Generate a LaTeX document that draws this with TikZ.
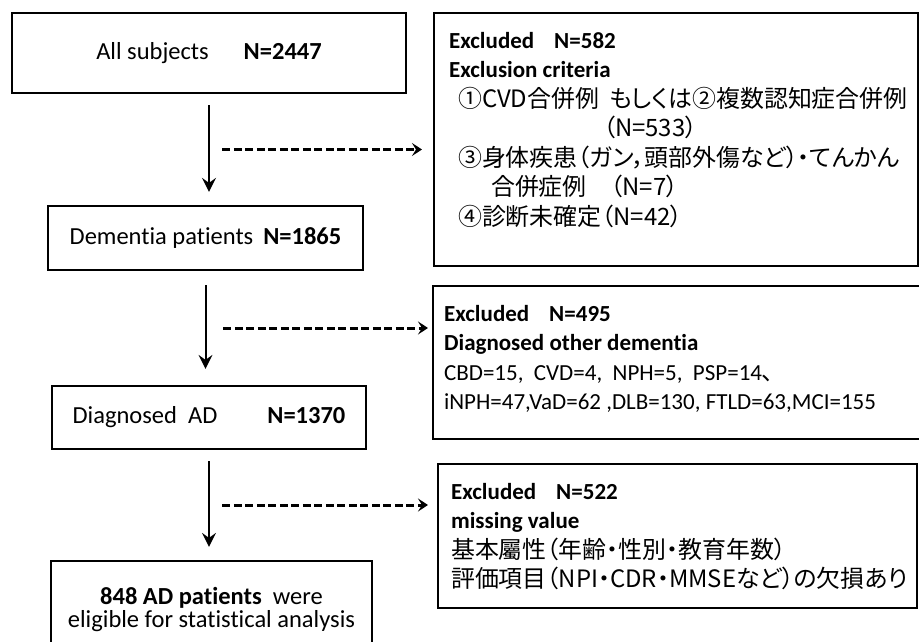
\documentclass[tikz,border=0pt]{standalone}
\usepackage{fontspec}
\setmainfont{Carlito}[Ligatures=CommonOff]
\newfontfamily\jpfont[Scale=1.04,RawFeature={+palt}]{Noto Sans CJK JP}
\newcommand{\jp}[1]{{\jpfont #1}}
\usetikzlibrary{arrows.meta,calc}

\tikzset{
  stage/.style={draw, line width=2.2pt, inner sep=0pt,
    font=\fontsize{24.5}{25}\selectfont},
  excl/.style={draw, line width=2.2pt, anchor=north west,
    inner xsep=13pt, inner ysep=19pt,
    font=\fontsize{23}{29.5}\selectfont},
  down/.style={-{Stealth[length=14pt,width=14pt,inset=5pt]}, line width=2pt},
  side/.style={-{Stealth[length=10pt,width=13pt,inset=4pt]}, line width=3pt,
    dash pattern=on 8pt off 3.5pt},
}

\begin{document}
\begin{tikzpicture}[x=1pt, y=-1pt]
  \useasboundingbox (0,0) rectangle (919,642);

  % --- main flow (left column) ---
  \node[stage, minimum width=394pt, minimum height=80pt] (all) at (209,53)
    {All subjects\hspace{35pt}\textbf{N=2447}};
  \node[stage, minimum width=315pt, minimum height=64pt] (dem) at (205.5,238)
    {Dementia patients\hspace{10pt}\textbf{N=1865}};
  \node[stage, minimum width=314pt, minimum height=63pt] (ad) at (209,417.5)
    {Diagnosed\ \ AD\hspace{50pt}\textbf{N=1370}};
  \node[stage, align=center, minimum width=321pt, minimum height=98pt,
    font=\fontsize{24.5}{23}\selectfont] (elig) at (211.5,610)
    {\textbf{848 AD patients}\ \ were\\eligible for statistical analysis};

  % --- exclusions (right column) ---
  \node[excl, inner xsep=15pt] (exA) at (433,12) {\parbox[t][215pt][t]{454pt}{\raggedright
    \textbf{Excluded\hspace{20pt}N=582}\\
    \textbf{Exclusion criteria}\\
    \mbox{\hspace*{9pt}\jp{①CVD合併例}\kern10pt\jp{もしくは②複数認知症合併例}}\\
    \hspace*{154pt}\jp{（N=533）}\\
    \hspace*{9pt}\jp{③身体疾患（ガン，頭部外傷など）・てんかん}\\
    \hspace*{42pt}\jp{合併症例　（N=7）}\\
    \hspace*{9pt}\jp{④診断未確定（N=42）}}};
  \node[excl, inner xsep=11pt] (exB) at (432,285) {\parbox[t][115pt][t]{471pt}{\raggedright
    \textbf{Excluded\hspace{20pt}N=495}\\
    \textbf{Diagnosed other dementia}\\
    CBD=15,\ \ CVD=4,\ \ NPH=5,\ \ PSP=14\jp{、}\\
    iNPH=47,VaD=62 ,DLB=130, FTLD=63,MCI=155}};
  \node[excl] (exC) at (437,463) {\parbox[t][106pt][t]{453pt}{\raggedright
    \textbf{Excluded\hspace{20pt}N=522}\\
    \textbf{missing value}\\
    \jp{基本屬性（年齢・性別・教育年数）}\\
    \jp{評価項目（NPI・CDR・MMSEなど）の欠損あり}}};

  % --- connectors ---
  \coordinate (m1) at ($(all.south)!.5!(dem.north)+(15,0)$);
  \coordinate (m2) at ($(dem.south)!.5!(ad.north)+(16,0)$);
  \coordinate (m3) at ($(ad.south)!.5!(elig.north)+(12,0)$);

  \draw[down, shorten <=11pt, shorten >=13pt] (all.south) -- (all.south |- dem.north);
  \draw[down, shorten <=14pt, shorten >=16pt] (dem.south) -- (dem.south |- ad.north);
  \draw[down, shorten <=11pt, shorten >=13pt] (ad.south) -- (ad.south |- elig.north);

  \draw[side, shorten >=11pt] (m1) -- (m1 -| exA.west);
  \draw[side, shorten >=4pt] (m2) -- (m2 -| exB.west);
  \draw[side, shorten >=9pt] (m3) -- (m3 -| exC.west);
\end{tikzpicture}
\end{document}
